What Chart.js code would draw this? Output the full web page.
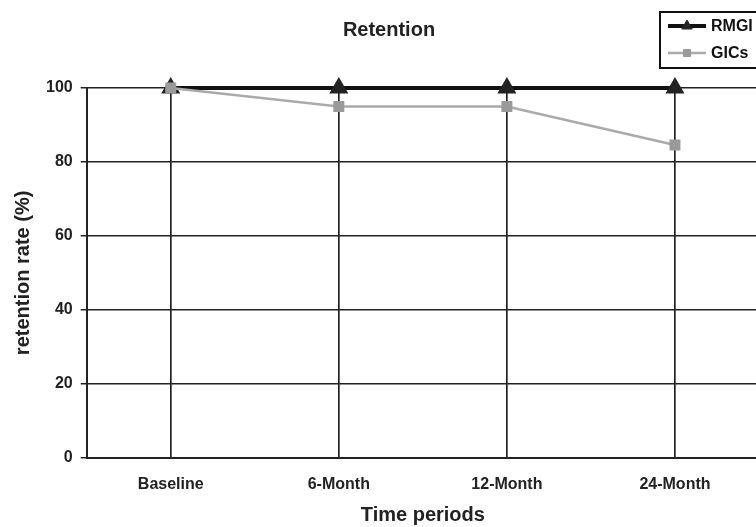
<!DOCTYPE html>
<html>
<head>
<meta charset="utf-8">
<script src="https://cdn.jsdelivr.net/npm/chart.js@4/dist/chart.umd.min.js"></script>
<style>
    html, body { margin: 0; padding: 0; background: #fff; overflow: hidden; }
    #wrap { width: 756px; height: 527px; overflow: hidden; }
    #box { width: 770px; height: 527px; }
</style>
</head>
<body>
<div id="wrap"><div id="box"><canvas id="retentionChart"></canvas></div></div>
<script>
    // Data
    const periods = ['Baseline', '6-Month', '12-Month', '24-Month'];
    const rmgiValues = [100, 100, 100, 100];
    const gicValues = [100, 95, 95, 84.6];
    const yTicks = [0, 20, 40, 60, 80, 100];

    const FONT = "'Liberation Sans', Arial, sans-serif";
    const INK = '#222';

    // Boxed legend, stacked vertically, in the top right corner
    const boxLegend = {
        id: 'boxLegend',
        afterDraw(chart) {
            const ctx = chart.ctx;
            const x0 = 660, y0 = 12, w = 140, h = 56;
            ctx.save();
            ctx.lineWidth = 2;
            ctx.strokeStyle = '#111';
            ctx.strokeRect(x0, y0, w, h);
            // legend rows in dataset order RMGI, GICs
            ['RMGI', 'GICs'].forEach((name, i) => {
                const ds = chart.data.datasets.find(d => d.label === name);
                const y = y0 + 14 + i * 27;
                ctx.strokeStyle = ds.borderColor;
                ctx.lineWidth = ds.borderWidth;
                ctx.beginPath();
                ctx.moveTo(x0 + 8, y);
                ctx.lineTo(x0 + 46, y);
                ctx.stroke();
                ctx.fillStyle = ds.pointBackgroundColor;
                ctx.strokeStyle = ds.pointBorderColor;
                ctx.lineWidth = 1;
                Chart.helpers.drawPoint(ctx, {
                    pointStyle: ds.pointStyle,
                    radius: ds.pointRadius - 1,
                    rotation: 0,
                    borderWidth: 1
                }, x0 + 27, y);
                ctx.fillStyle = '#111';
                ctx.font = 'bold 16px ' + FONT;
                ctx.textBaseline = 'middle';
                ctx.fillText(name, x0 + 51, y + 1);
            });
            ctx.restore();
        }
    };

    function init() {
        const ctx = document.getElementById('retentionChart');
        if (!ctx) return;

        new Chart(ctx, {
            type: 'line',
            data: {
                labels: periods,
                datasets: [
                    {
                        label: 'RMGI',
                        data: rmgiValues,
                        borderColor: '#111',
                        borderWidth: 4,
                        pointStyle: 'triangle',
                        pointRadius: 7,
                        pointBackgroundColor: '#222',
                        pointBorderColor: '#222',
                        tension: 0,
                        clip: false,
                        order: 1
                    },
                    {
                        label: 'GICs',
                        data: gicValues,
                        borderColor: '#aaa',
                        borderWidth: 2.5,
                        pointStyle: 'rect',
                        pointRadius: 6,
                        pointBackgroundColor: '#9a9a9a',
                        pointBorderColor: '#9a9a9a',
                        tension: 0,
                        clip: false,
                        order: 0
                    }
                ]
            },
            options: {
                responsive: true,
                maintainAspectRatio: false,
                animation: false,
                layout: { padding: { top: 18, left: 11, right: 3, bottom: 0 } },
                plugins: {
                    legend: { display: false },
                    tooltip: { enabled: false },
                    title: {
                        display: true,
                        text: 'Retention',
                        color: '#222',
                        font: { family: FONT, size: 20, weight: 'bold' },
                        padding: { top: 0, bottom: 46 }
                    }
                },
                scales: {
                    x: {
                        offset: true,
                        grid: {
                            offset: false,
                            color: INK,
                            lineWidth: 1.7,
                            drawTicks: false
                        },
                        border: { color: INK, width: 2 },
                        ticks: {
                            color: '#222',
                            padding: 17,
                            font: { family: FONT, size: 16, weight: 'bold' }
                        },
                        title: {
                            display: true,
                            text: 'Time periods',
                            color: '#222',
                            padding: { top: -8, bottom: 0 },
                            font: { family: FONT, size: 20, weight: 'bold' }
                        }
                    },
                    y: {
                        min: 0,
                        max: 100,
                        afterBuildTicks: scale => {
                            scale.ticks = yTicks.map(v => ({ value: v }));
                        },
                        grid: {
                            color: INK,
                            lineWidth: 1.5,
                            tickLength: 6
                        },
                        border: { color: INK, width: 2 },
                        ticks: {
                            color: '#222',
                            padding: 8,
                            font: { family: FONT, size: 16, weight: 'bold' }
                        },
                        title: {
                            display: true,
                            text: 'retention rate (%)',
                            color: '#222',
                            padding: { top: 0, bottom: 3 },
                            font: { family: FONT, size: 20, weight: 'bold' }
                        }
                    }
                }
            },
            plugins: [boxLegend]
        });
    }

    init();
</script>
</body>
</html>
